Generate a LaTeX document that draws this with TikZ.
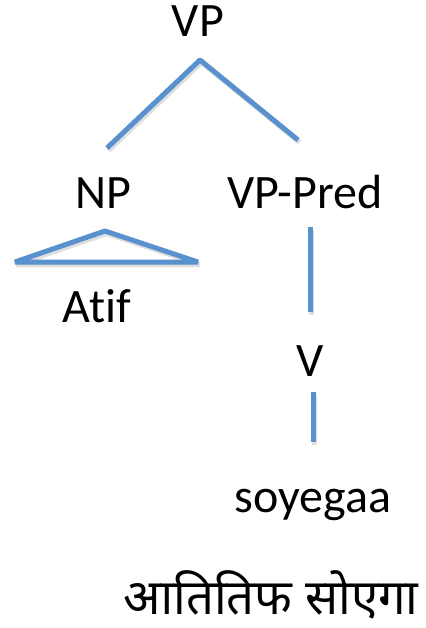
\documentclass[tikz,border=0pt]{standalone}
\usepackage{fontspec}
\setmainfont[Ligatures=NoCommon]{Carlito}
\newfontfamily\devfont[Script=Devanagari]{Noto Sans}
\definecolor{branch}{RGB}{88,145,205}
\tikzset{
  lbl/.style={anchor=base, inner sep=0pt, font=\fontsize{48}{54}\selectfont},
  edge/.style={draw=branch, line width=5pt, line join=bevel},
  edgeshadow/.style={draw=black, opacity=0.13, line width=5pt, line join=bevel,
    transform canvas={shift={(1.5pt,-2.5pt)}}}
}
\begin{document}
\begin{tikzpicture}[x=1pt, y=-1pt]
  \useasboundingbox (0,0) rectangle (425,628);

  % labels
  \node[lbl] (VP)     at (198,37)  {VP};
  \node[lbl] (NP)     at (103,208) {NP};
  \node[lbl] (VPPred) at (305,208) {VP-Pred};
  \node[lbl] (Atif)   at (97,322)  {Atif};
  \node[lbl] (V)      at (310,376) {V};
  \node[lbl] (soy)    at (313,512) {soyegaa};
  \node[anchor=base, inner sep=0pt, font=\devfont\fontsize{49}{56}\selectfont] (hindi) at (271,614) {आतितिफ सोएगा};

  % branch end points
  \coordinate (top)  at (200,60);
  \coordinate (topL) at (107,148);
  \coordinate (topR) at (298,140);
  \coordinate (triA) at (105,231);
  \coordinate (triL) at (15,262);
  \coordinate (triR) at (198,262);
  \coordinate (s1a)  at (310,227);
  \coordinate (s1b)  at (310,312);
  \coordinate (s2a)  at (313,392);
  \coordinate (s2b)  at (313,442);

  % soft shadows under the branches
  \draw[edgeshadow] (topL) -- (top) -- (topR);
  \draw[edgeshadow] (triL) -- (triA) -- (triR) -- cycle;
  \draw[edgeshadow] (s1a) -- (s1b);
  \draw[edgeshadow] (s2a) -- (s2b);

  % branches
  \draw[edge] (topL) -- (top) -- (topR);
  \draw[edge] (triL) -- (triA) -- (triR) -- cycle;
  \draw[edge] (s1a) -- (s1b);
  \draw[edge] (s2a) -- (s2b);
\end{tikzpicture}
\end{document}
